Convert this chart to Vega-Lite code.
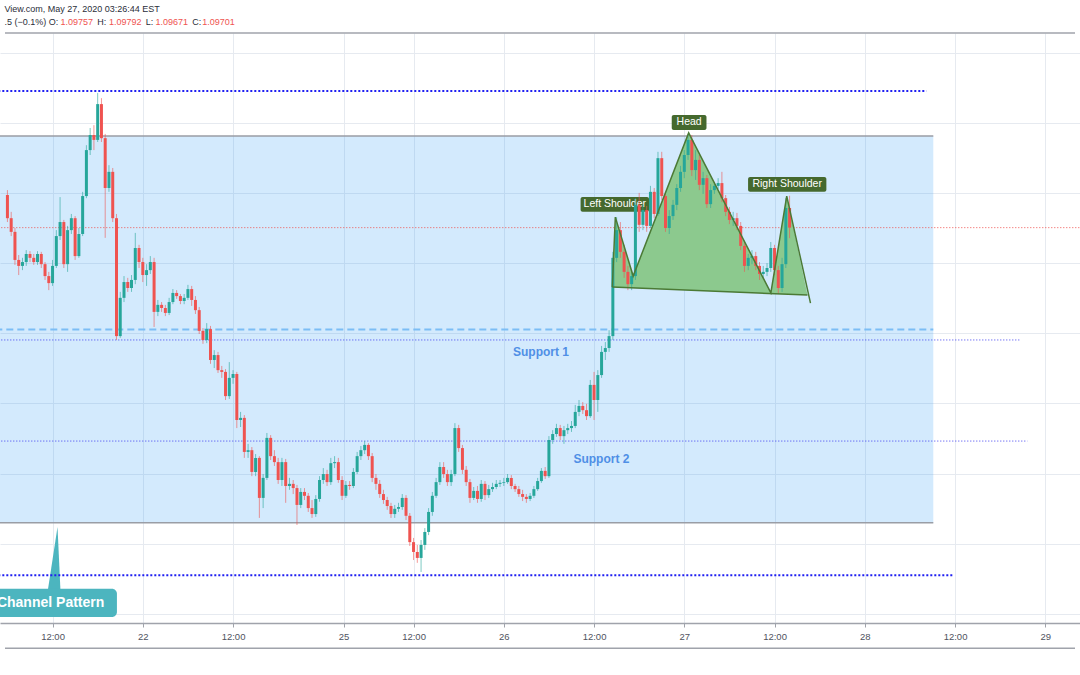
{
"$schema": "https://vega.github.io/schema/vega-lite/v6.json",
"width": 1080, "height": 590,
"autosize": {"type": "none"},
"padding": {"left": 0, "top": 33, "right": 0, "bottom": 52},
"background": "white",
"config": {"view": {"stroke": null}, "font": "Liberation Sans"},
"datasets": {
"candles": [
{"t":6,"o":1.09794,"h":1.09808,"l":1.09717,"c":1.09728},
{"t":6.5,"o":1.09728,"h":1.09746,"l":1.09677,"c":1.09689},
{"t":7,"o":1.09689,"h":1.09700,"l":1.09595,"c":1.09609},
{"t":7.5,"o":1.09609,"h":1.09623,"l":1.09566,"c":1.09592},
{"t":8,"o":1.09592,"h":1.09615,"l":1.09580,"c":1.09603},
{"t":8.5,"o":1.09603,"h":1.09637,"l":1.09592,"c":1.09626},
{"t":9,"o":1.09626,"h":1.09634,"l":1.09603,"c":1.09615},
{"t":9.5,"o":1.09615,"h":1.09626,"l":1.09595,"c":1.09603},
{"t":10,"o":1.09603,"h":1.09634,"l":1.09595,"c":1.09626},
{"t":10.5,"o":1.09626,"h":1.09632,"l":1.09586,"c":1.09597},
{"t":11,"o":1.09597,"h":1.09603,"l":1.09552,"c":1.09563},
{"t":11.5,"o":1.09563,"h":1.09575,"l":1.09523,"c":1.09543},
{"t":12,"o":1.09543,"h":1.09609,"l":1.09535,"c":1.09592},
{"t":12.5,"o":1.09592,"h":1.09694,"l":1.09586,"c":1.09677},
{"t":13,"o":1.09677,"h":1.09788,"l":1.09666,"c":1.09717},
{"t":13.5,"o":1.09717,"h":1.09723,"l":1.09586,"c":1.09597},
{"t":14,"o":1.09597,"h":1.09706,"l":1.09575,"c":1.09694},
{"t":14.5,"o":1.09694,"h":1.09740,"l":1.09683,"c":1.09728},
{"t":15,"o":1.09728,"h":1.09734,"l":1.09609,"c":1.09620},
{"t":15.5,"o":1.09620,"h":1.09700,"l":1.09615,"c":1.09683},
{"t":16,"o":1.09683,"h":1.09803,"l":1.09677,"c":1.09791},
{"t":16.5,"o":1.09791,"h":1.09936,"l":1.09785,"c":1.09922},
{"t":17,"o":1.09922,"h":1.09985,"l":1.09908,"c":1.09965},
{"t":17.5,"o":1.09965,"h":1.09993,"l":1.09922,"c":1.09951},
{"t":18,"o":1.09951,"h":1.10085,"l":1.09945,"c":1.10053},
{"t":18.5,"o":1.10053,"h":1.10070,"l":1.09945,"c":1.09956},
{"t":19,"o":1.09956,"h":1.09968,"l":1.09672,"c":1.09814},
{"t":19.5,"o":1.09814,"h":1.09879,"l":1.09803,"c":1.09860},
{"t":20,"o":1.09860,"h":1.09871,"l":1.09717,"c":1.09728},
{"t":20.5,"o":1.09728,"h":1.09740,"l":1.09381,"c":1.09392},
{"t":21,"o":1.09392,"h":1.09518,"l":1.09387,"c":1.09501},
{"t":21.5,"o":1.09501,"h":1.09563,"l":1.09489,"c":1.09546},
{"t":22,"o":1.09546,"h":1.09558,"l":1.09518,"c":1.09529},
{"t":22.5,"o":1.09529,"h":1.09566,"l":1.09518,"c":1.09552},
{"t":23,"o":1.09552,"h":1.09686,"l":1.09540,"c":1.09643},
{"t":23.5,"o":1.09643,"h":1.09652,"l":1.09586,"c":1.09603},
{"t":24,"o":1.09603,"h":1.09615,"l":1.09546,"c":1.09566},
{"t":24.5,"o":1.09566,"h":1.09597,"l":1.09535,"c":1.09580},
{"t":25,"o":1.09580,"h":1.09620,"l":1.09569,"c":1.09603},
{"t":25.5,"o":1.09603,"h":1.09615,"l":1.09418,"c":1.09461},
{"t":26,"o":1.09461,"h":1.09495,"l":1.09449,"c":1.09481},
{"t":26.5,"o":1.09481,"h":1.09489,"l":1.09461,"c":1.09472},
{"t":27,"o":1.09472,"h":1.09481,"l":1.09449,"c":1.09458},
{"t":27.5,"o":1.09458,"h":1.09501,"l":1.09452,"c":1.09489},
{"t":28,"o":1.09489,"h":1.09526,"l":1.09483,"c":1.09515},
{"t":28.5,"o":1.09515,"h":1.09523,"l":1.09498,"c":1.09506},
{"t":29,"o":1.09506,"h":1.09512,"l":1.09483,"c":1.09492},
{"t":29.5,"o":1.09492,"h":1.09512,"l":1.09483,"c":1.09501},
{"t":30,"o":1.09501,"h":1.09538,"l":1.09495,"c":1.09526},
{"t":30.5,"o":1.09526,"h":1.09535,"l":1.09478,"c":1.09495},
{"t":31,"o":1.09495,"h":1.09506,"l":1.09455,"c":1.09466},
{"t":31.5,"o":1.09466,"h":1.09475,"l":1.09398,"c":1.09407},
{"t":32,"o":1.09407,"h":1.09415,"l":1.09370,"c":1.09381},
{"t":32.5,"o":1.09381,"h":1.09429,"l":1.09372,"c":1.09412},
{"t":33,"o":1.09412,"h":1.09421,"l":1.09313,"c":1.09324},
{"t":33.5,"o":1.09324,"h":1.09352,"l":1.09301,"c":1.09338},
{"t":34,"o":1.09338,"h":1.09347,"l":1.09287,"c":1.09295},
{"t":34.5,"o":1.09295,"h":1.09307,"l":1.09273,"c":1.09290},
{"t":35,"o":1.09290,"h":1.09298,"l":1.09210,"c":1.09221},
{"t":35.5,"o":1.09221,"h":1.09318,"l":1.09213,"c":1.09273},
{"t":36,"o":1.09273,"h":1.09295,"l":1.09256,"c":1.09284},
{"t":36.5,"o":1.09284,"h":1.09290,"l":1.09130,"c":1.09153},
{"t":37,"o":1.09153,"h":1.09176,"l":1.09133,"c":1.09159},
{"t":37.5,"o":1.09159,"h":1.09167,"l":1.09045,"c":1.09062},
{"t":38,"o":1.09062,"h":1.09085,"l":1.09045,"c":1.09067},
{"t":38.5,"o":1.09067,"h":1.09076,"l":1.08993,"c":1.09005},
{"t":39,"o":1.09005,"h":1.09056,"l":1.08993,"c":1.09045},
{"t":39.5,"o":1.09045,"h":1.09050,"l":1.08874,"c":1.08931},
{"t":40,"o":1.08931,"h":1.08999,"l":1.08902,"c":1.08988},
{"t":40.5,"o":1.08988,"h":1.09116,"l":1.08982,"c":1.09102},
{"t":41,"o":1.09102,"h":1.09110,"l":1.09039,"c":1.09050},
{"t":41.5,"o":1.09050,"h":1.09067,"l":1.09022,"c":1.09033},
{"t":42,"o":1.09033,"h":1.09045,"l":1.08971,"c":1.08982},
{"t":42.5,"o":1.08982,"h":1.09045,"l":1.08965,"c":1.09033},
{"t":43,"o":1.09033,"h":1.09042,"l":1.08917,"c":1.08965},
{"t":43.5,"o":1.08965,"h":1.08988,"l":1.08954,"c":1.08971},
{"t":44,"o":1.08971,"h":1.08982,"l":1.08942,"c":1.08959},
{"t":44.5,"o":1.08959,"h":1.08968,"l":1.08854,"c":1.08911},
{"t":45,"o":1.08911,"h":1.08959,"l":1.08902,"c":1.08948},
{"t":45.5,"o":1.08948,"h":1.08959,"l":1.08925,"c":1.08937},
{"t":46,"o":1.08937,"h":1.08945,"l":1.08891,"c":1.08902},
{"t":46.5,"o":1.08902,"h":1.08925,"l":1.08874,"c":1.08885},
{"t":47,"o":1.08885,"h":1.08939,"l":1.08877,"c":1.08928},
{"t":47.5,"o":1.08928,"h":1.08993,"l":1.08920,"c":1.08982},
{"t":48,"o":1.08982,"h":1.09016,"l":1.08971,"c":1.08999},
{"t":48.5,"o":1.08999,"h":1.09011,"l":1.08965,"c":1.08976},
{"t":49,"o":1.08976,"h":1.09045,"l":1.08968,"c":1.09030},
{"t":49.5,"o":1.09030,"h":1.09050,"l":1.09016,"c":1.09033},
{"t":50,"o":1.09033,"h":1.09045,"l":1.08974,"c":1.08982},
{"t":50.5,"o":1.08982,"h":1.08993,"l":1.08925,"c":1.08937},
{"t":51,"o":1.08937,"h":1.08979,"l":1.08931,"c":1.08968},
{"t":51.5,"o":1.08968,"h":1.08979,"l":1.08954,"c":1.08965},
{"t":52,"o":1.08965,"h":1.09016,"l":1.08959,"c":1.09005},
{"t":52.5,"o":1.09005,"h":1.09062,"l":1.08999,"c":1.09050},
{"t":53,"o":1.09050,"h":1.09079,"l":1.09039,"c":1.09067},
{"t":53.5,"o":1.09067,"h":1.09093,"l":1.09056,"c":1.09082},
{"t":54,"o":1.09082,"h":1.09087,"l":1.09039,"c":1.09050},
{"t":54.5,"o":1.09050,"h":1.09059,"l":1.08976,"c":1.08988},
{"t":55,"o":1.08988,"h":1.08999,"l":1.08954,"c":1.08971},
{"t":55.5,"o":1.08971,"h":1.08982,"l":1.08931,"c":1.08942},
{"t":56,"o":1.08942,"h":1.08954,"l":1.08914,"c":1.08925},
{"t":56.5,"o":1.08925,"h":1.08934,"l":1.08897,"c":1.08908},
{"t":57,"o":1.08908,"h":1.08917,"l":1.08874,"c":1.08885},
{"t":57.5,"o":1.08885,"h":1.08911,"l":1.08874,"c":1.08900},
{"t":58,"o":1.08900,"h":1.08917,"l":1.08891,"c":1.08905},
{"t":58.5,"o":1.08905,"h":1.08942,"l":1.08897,"c":1.08931},
{"t":59,"o":1.08931,"h":1.08939,"l":1.08868,"c":1.08880},
{"t":59.5,"o":1.08880,"h":1.08888,"l":1.08794,"c":1.08805},
{"t":60,"o":1.08805,"h":1.08817,"l":1.08754,"c":1.08777},
{"t":60.5,"o":1.08777,"h":1.08797,"l":1.08746,"c":1.08760},
{"t":61,"o":1.08760,"h":1.08811,"l":1.08720,"c":1.08797},
{"t":61.5,"o":1.08797,"h":1.08845,"l":1.08783,"c":1.08834},
{"t":62,"o":1.08834,"h":1.08902,"l":1.08825,"c":1.08891},
{"t":62.5,"o":1.08891,"h":1.08948,"l":1.08880,"c":1.08937},
{"t":63,"o":1.08937,"h":1.08988,"l":1.08931,"c":1.08976},
{"t":63.5,"o":1.08976,"h":1.09033,"l":1.08968,"c":1.09019},
{"t":64,"o":1.09019,"h":1.09033,"l":1.08988,"c":1.08999},
{"t":64.5,"o":1.08999,"h":1.09011,"l":1.08965,"c":1.08976},
{"t":65,"o":1.08976,"h":1.09011,"l":1.08965,"c":1.08999},
{"t":65.5,"o":1.08999,"h":1.09144,"l":1.08993,"c":1.09130},
{"t":66,"o":1.09130,"h":1.09139,"l":1.09062,"c":1.09073},
{"t":66.5,"o":1.09073,"h":1.09082,"l":1.08999,"c":1.09011},
{"t":67,"o":1.09011,"h":1.09022,"l":1.08965,"c":1.08976},
{"t":67.5,"o":1.08976,"h":1.08985,"l":1.08917,"c":1.08931},
{"t":68,"o":1.08931,"h":1.08962,"l":1.08925,"c":1.08951},
{"t":68.5,"o":1.08951,"h":1.08965,"l":1.08917,"c":1.08928},
{"t":69,"o":1.08928,"h":1.08982,"l":1.08920,"c":1.08971},
{"t":69.5,"o":1.08971,"h":1.08979,"l":1.08925,"c":1.08939},
{"t":70,"o":1.08939,"h":1.08968,"l":1.08931,"c":1.08956},
{"t":70.5,"o":1.08956,"h":1.08974,"l":1.08948,"c":1.08962},
{"t":71,"o":1.08962,"h":1.08982,"l":1.08956,"c":1.08971},
{"t":71.5,"o":1.08971,"h":1.08982,"l":1.08962,"c":1.08974},
{"t":72,"o":1.08974,"h":1.08988,"l":1.08965,"c":1.08976},
{"t":72.5,"o":1.08976,"h":1.08999,"l":1.08971,"c":1.08988},
{"t":73,"o":1.08988,"h":1.08996,"l":1.08956,"c":1.08965},
{"t":73.5,"o":1.08965,"h":1.08971,"l":1.08948,"c":1.08956},
{"t":74,"o":1.08956,"h":1.08965,"l":1.08934,"c":1.08942},
{"t":74.5,"o":1.08942,"h":1.08954,"l":1.08922,"c":1.08934},
{"t":75,"o":1.08934,"h":1.08942,"l":1.08917,"c":1.08928},
{"t":75.5,"o":1.08928,"h":1.08945,"l":1.08922,"c":1.08937},
{"t":76,"o":1.08937,"h":1.08965,"l":1.08931,"c":1.08956},
{"t":76.5,"o":1.08956,"h":1.08988,"l":1.08951,"c":1.08979},
{"t":77,"o":1.08979,"h":1.09016,"l":1.08974,"c":1.09008},
{"t":77.5,"o":1.09008,"h":1.09019,"l":1.08985,"c":1.08993},
{"t":78,"o":1.08993,"h":1.09107,"l":1.08988,"c":1.09096},
{"t":78.5,"o":1.09096,"h":1.09124,"l":1.09085,"c":1.09113},
{"t":79,"o":1.09113,"h":1.09142,"l":1.09105,"c":1.09130},
{"t":79.5,"o":1.09130,"h":1.09139,"l":1.09096,"c":1.09107},
{"t":80,"o":1.09107,"h":1.09136,"l":1.09085,"c":1.09124},
{"t":80.5,"o":1.09124,"h":1.09142,"l":1.09113,"c":1.09130},
{"t":81,"o":1.09130,"h":1.09150,"l":1.09119,"c":1.09136},
{"t":81.5,"o":1.09136,"h":1.09196,"l":1.09130,"c":1.09176},
{"t":82,"o":1.09176,"h":1.09210,"l":1.09164,"c":1.09193},
{"t":82.5,"o":1.09193,"h":1.09204,"l":1.09170,"c":1.09181},
{"t":83,"o":1.09181,"h":1.09199,"l":1.09153,"c":1.09164},
{"t":83.5,"o":1.09164,"h":1.09267,"l":1.09159,"c":1.09253},
{"t":84,"o":1.09253,"h":1.09290,"l":1.09153,"c":1.09210},
{"t":84.5,"o":1.09210,"h":1.09295,"l":1.09176,"c":1.09281},
{"t":85,"o":1.09281,"h":1.09364,"l":1.09273,"c":1.09347},
{"t":85.5,"o":1.09347,"h":1.09375,"l":1.09324,"c":1.09358},
{"t":86,"o":1.09358,"h":1.09409,"l":1.09347,"c":1.09392},
{"t":86.5,"o":1.09392,"h":1.09632,"l":1.09381,"c":1.09615},
{"t":87,"o":1.09615,"h":1.09731,"l":1.09603,"c":1.09694},
{"t":87.5,"o":1.09694,"h":1.09717,"l":1.09615,"c":1.09632},
{"t":88,"o":1.09632,"h":1.09652,"l":1.09558,"c":1.09575},
{"t":88.5,"o":1.09575,"h":1.09592,"l":1.09523,"c":1.09540},
{"t":89,"o":1.09540,"h":1.09580,"l":1.09523,"c":1.09563},
{"t":89.5,"o":1.09563,"h":1.09785,"l":1.09552,"c":1.09766},
{"t":90,"o":1.09766,"h":1.09800,"l":1.09689,"c":1.09709},
{"t":90.5,"o":1.09709,"h":1.09766,"l":1.09694,"c":1.09751},
{"t":91,"o":1.09751,"h":1.09763,"l":1.09689,"c":1.09706},
{"t":91.5,"o":1.09706,"h":1.09820,"l":1.09700,"c":1.09803},
{"t":92,"o":1.09803,"h":1.09814,"l":1.09728,"c":1.09740},
{"t":92.5,"o":1.09740,"h":1.09917,"l":1.09734,"c":1.09899},
{"t":93,"o":1.09899,"h":1.09917,"l":1.09780,"c":1.09791},
{"t":93.5,"o":1.09791,"h":1.09803,"l":1.09689,"c":1.09700},
{"t":94,"o":1.09700,"h":1.09751,"l":1.09683,"c":1.09734},
{"t":94.5,"o":1.09734,"h":1.09780,"l":1.09723,"c":1.09766},
{"t":95,"o":1.09766,"h":1.09825,"l":1.09751,"c":1.09814},
{"t":95.5,"o":1.09814,"h":1.09877,"l":1.09803,"c":1.09860},
{"t":96,"o":1.09860,"h":1.09922,"l":1.09842,"c":1.09908},
{"t":96.5,"o":1.09908,"h":1.09968,"l":1.09894,"c":1.09951},
{"t":97,"o":1.09951,"h":1.09965,"l":1.09848,"c":1.09865},
{"t":97.5,"o":1.09865,"h":1.09922,"l":1.09837,"c":1.09894},
{"t":98,"o":1.09894,"h":1.09908,"l":1.09808,"c":1.09823},
{"t":98.5,"o":1.09823,"h":1.09860,"l":1.09797,"c":1.09842},
{"t":99,"o":1.09842,"h":1.09851,"l":1.09757,"c":1.09768},
{"t":99.5,"o":1.09768,"h":1.09825,"l":1.09757,"c":1.09808},
{"t":100,"o":1.09808,"h":1.09831,"l":1.09797,"c":1.09820},
{"t":100.5,"o":1.09820,"h":1.09842,"l":1.09811,"c":1.09828},
{"t":101,"o":1.09828,"h":1.09860,"l":1.09774,"c":1.09785},
{"t":101.5,"o":1.09785,"h":1.09794,"l":1.09734,"c":1.09746},
{"t":102,"o":1.09746,"h":1.09760,"l":1.09711,"c":1.09723},
{"t":102.5,"o":1.09723,"h":1.09746,"l":1.09706,"c":1.09728},
{"t":103,"o":1.09728,"h":1.09743,"l":1.09694,"c":1.09706},
{"t":103.5,"o":1.09706,"h":1.09717,"l":1.09637,"c":1.09649},
{"t":104,"o":1.09649,"h":1.09660,"l":1.09575,"c":1.09592},
{"t":104.5,"o":1.09592,"h":1.09626,"l":1.09580,"c":1.09615},
{"t":105,"o":1.09615,"h":1.09637,"l":1.09597,"c":1.09620},
{"t":105.5,"o":1.09620,"h":1.09632,"l":1.09580,"c":1.09592},
{"t":106,"o":1.09592,"h":1.09603,"l":1.09552,"c":1.09569},
{"t":106.5,"o":1.09569,"h":1.09592,"l":1.09558,"c":1.09575},
{"t":107,"o":1.09575,"h":1.09600,"l":1.09563,"c":1.09586},
{"t":107.5,"o":1.09586,"h":1.09660,"l":1.09575,"c":1.09643},
{"t":108,"o":1.09643,"h":1.09652,"l":1.09566,"c":1.09580},
{"t":108.5,"o":1.09580,"h":1.09592,"l":1.09512,"c":1.09529},
{"t":109,"o":1.09529,"h":1.09615,"l":1.09518,"c":1.09597},
{"t":109.5,"o":1.09597,"h":1.09785,"l":1.09586,"c":1.09757},
{"t":110,"o":1.09757,"h":1.09792,"l":1.09671,"c":1.09701}
]
},
"layer": [
{
"data": {"values": [{"x1": 0, "x2": 129.11, "top": 1.09962, "bottom": 1.0886}]},
"mark": {"type": "rect", "fill": "#2196f3", "fillOpacity": 0.2, "clip": true},
"encoding": {
"x": {"field": "x1", "type": "quantitative", "scale": {"domain": [5.677, 147.95], "nice": false, "zero": false},
"axis": {"values": [12, 24, 36, 50.7, 60, 72, 84, 96, 108, 120, 132, 144],
"labelExpr": "datum.value == 24 ? '22' : datum.value == 50.7 ? '25' : datum.value == 72 ? '26' : datum.value == 96 ? '27' : datum.value == 120 ? '28' : datum.value == 144 ? '29' : '12:00'",
"title": null, "grid": true, "gridColor": "#e6eaf0", "gridWidth": 1, "domain": true, "domainColor": "#a0a3ab", "domainWidth": 1.5, "ticks": true, "tickColor": "#a0a3ab", "tickSize": 4, "labels": true, "labelColor": "#50535e", "labelFontSize": 9.5, "labelFont": "Liberation Sans", "labelPadding": 4, "labelFlush": false, "labelOverlap": false}},
"x2": {"field": "x2"},
"y": {"field": "top", "type": "quantitative", "scale": {"domain": [1.085746, 1.102556], "nice": false, "zero": false},
"axis": {"values": [1.086, 1.087, 1.088, 1.089, 1.09, 1.091, 1.092, 1.093, 1.094, 1.095, 1.096, 1.097, 1.098, 1.099, 1.1, 1.101, 1.102], "title": null, "labels": false, "ticks": false, "domain": false, "grid": true, "gridColor": "#e6eaf0", "gridWidth": 1}},
"y2": {"field": "bottom"}
}
},
{
"data": {"values": [{"x1": 0, "x2": 129.11, "p": 1.09962}, {"x1": 0, "x2": 129.11, "p": 1.0886}]},
"mark": {"type": "rule", "color": "#9a9da5", "strokeWidth": 1.5, "clip": true},
"encoding": {
"x": {"field": "x1", "type": "quantitative", "scale": {"domain": [5.677, 147.95], "nice": false, "zero": false}},
"x2": {"field": "x2"},
"y": {"field": "p", "type": "quantitative", "scale": {"domain": [1.085746, 1.102556], "nice": false, "zero": false}}
}
},
{
"data": {"values": [{"x1": 0, "x2": 129.11, "p": 1.09411}]},
"mark": {"type": "rule", "color": "#7cbdf5", "strokeWidth": 2, "strokeDash": [7, 4], "clip": true},
"encoding": {
"x": {"field": "x1", "type": "quantitative", "scale": {"domain": [5.677, 147.95], "nice": false, "zero": false}},
"x2": {"field": "x2"},
"y": {"field": "p", "type": "quantitative", "scale": {"domain": [1.085746, 1.102556], "nice": false, "zero": false}}
}
},
{
"data": {"values": [{"t": 11.34, "p": 1.08663, "b": 1.08663}, {"t": 12.66, "p": 1.08848, "b": 1.08663}, {"t": 13.06, "p": 1.08663, "b": 1.08663}]},
"mark": {"type": "area", "color": "#4cb5bf", "opacity": 1},
"encoding": {
"x": {"field": "t", "type": "quantitative", "scale": {"domain": [5.677, 147.95], "nice": false, "zero": false}},
"y": {"field": "p", "type": "quantitative", "scale": {"domain": [1.085746, 1.102556], "nice": false, "zero": false}},
"y2": {"field": "b"}
}
},
{
"data": {"values": [{"x1": 3, "x2": 20.56, "top": 1.08672, "bottom": 1.08592}]},
"mark": {"type": "rect", "fill": "#4cb5bf", "cornerRadius": 5, "clip": true},
"encoding": {
"x": {"field": "x1", "type": "quantitative", "scale": {"domain": [5.677, 147.95], "nice": false, "zero": false}},
"x2": {"field": "x2"},
"y": {"field": "top", "type": "quantitative", "scale": {"domain": [1.085746, 1.102556], "nice": false, "zero": false}},
"y2": {"field": "bottom"}
}
},
{
"data": {"values": [{"t": 11.74, "p": 1.08631, "txt": "Channel Pattern"}]},
"mark": {"type": "text", "color": "white", "fontSize": 14, "fontWeight": "bold", "font": "Liberation Sans", "align": "center", "baseline": "middle", "clip": true},
"encoding": {
"x": {"field": "t", "type": "quantitative", "scale": {"domain": [5.677, 147.95], "nice": false, "zero": false}},
"y": {"field": "p", "type": "quantitative", "scale": {"domain": [1.085746, 1.102556], "nice": false, "zero": false}},
"text": {"field": "txt"}
}
},
{
"data": {"values": [{"x1": 0, "x2": 128.2, "p": 1.1009}, {"x1": 0, "x2": 131.76, "p": 1.08711}]},
"mark": {"type": "rule", "color": "#1f1ff2", "strokeWidth": 2, "strokeDash": [2, 2], "clip": true},
"encoding": {
"x": {"field": "x1", "type": "quantitative", "scale": {"domain": [5.677, 147.95], "nice": false, "zero": false}},
"x2": {"field": "x2"},
"y": {"field": "p", "type": "quantitative", "scale": {"domain": [1.085746, 1.102556], "nice": false, "zero": false}}
}
},
{
"data": {"values": [{"x1": 0, "x2": 140.72, "p": 1.09381}, {"x1": 0, "x2": 141.64, "p": 1.09093}]},
"mark": {"type": "rule", "color": "#3d3df0", "strokeWidth": 1, "strokeDash": [1, 2], "clip": true},
"encoding": {
"x": {"field": "x1", "type": "quantitative", "scale": {"domain": [5.677, 147.95], "nice": false, "zero": false}},
"x2": {"field": "x2"},
"y": {"field": "p", "type": "quantitative", "scale": {"domain": [1.085746, 1.102556], "nice": false, "zero": false}}
}
},
{
"data": {"values": [{"x1": 0, "x2": 150, "p": 1.09701}]},
"mark": {"type": "rule", "color": "#ef5350", "strokeWidth": 1, "strokeDash": [1, 2], "clip": true},
"encoding": {
"x": {"field": "x1", "type": "quantitative", "scale": {"domain": [5.677, 147.95], "nice": false, "zero": false}},
"x2": {"field": "x2"},
"y": {"field": "p", "type": "quantitative", "scale": {"domain": [1.085746, 1.102556], "nice": false, "zero": false}}
}
},
{
"data": {"values": [
{"t": 86.43, "top": 1.09532, "base": 1.09532},
{"t": 86.83, "top": 1.09731, "base": 1.09531},
{"t": 89.2, "top": 1.09563, "base": 1.09529},
{"t": 96.58, "top": 1.09971, "base": 1.09523},
{"t": 107.51, "top": 1.09515, "base": 1.09513},
{"t": 109.62, "top": 1.09791, "base": 1.09511},
{"t": 112.38, "top": 1.09509, "base": 1.09509}
]},
"mark": {"type": "area", "color": "#8cc98e", "opacity": 1},
"encoding": {
"x": {"field": "t", "type": "quantitative", "scale": {"domain": [5.677, 147.95], "nice": false, "zero": false}},
"y": {"field": "top", "type": "quantitative", "scale": {"domain": [1.085746, 1.102556], "nice": false, "zero": false}},
"y2": {"field": "base"}
}
},
{
"data": {"values": [
{"x1": 94.33, "x2": 98.95, "y1": 1.10022, "y2": 1.09979, "tx": 96.64, "ty": 1.10001, "label": "Head"},
{"x1": 82.21, "x2": 91.31, "y1": 1.09788, "y2": 1.09746, "tx": 86.76, "ty": 1.09767, "label": "Left Shoulder"},
{"x1": 104.48, "x2": 114.89, "y1": 1.09845, "y2": 1.09803, "tx": 109.68, "ty": 1.09824, "label": "Right Shoulder"}
]},
"layer": [
{
"mark": {"type": "rect", "fill": "#45692e", "cornerRadius": 2},
"encoding": {
"x": {"field": "x1", "type": "quantitative", "scale": {"domain": [5.677, 147.95], "nice": false, "zero": false}},
"x2": {"field": "x2"},
"y": {"field": "y1", "type": "quantitative", "scale": {"domain": [1.085746, 1.102556], "nice": false, "zero": false}},
"y2": {"field": "y2"}
}
},
{
"mark": {"type": "text", "color": "white", "fontSize": 10.5, "font": "Liberation Sans", "align": "center", "baseline": "middle"},
"encoding": {
"x": {"field": "tx", "type": "quantitative", "scale": {"domain": [5.677, 147.95], "nice": false, "zero": false}},
"y": {"field": "ty", "type": "quantitative", "scale": {"domain": [1.085746, 1.102556], "nice": false, "zero": false}},
"text": {"field": "label"}
}
}
]
},
{
"data": {"name": "candles"},
"mark": {"type": "rule", "strokeWidth": 1, "opacity": 0.6},
"encoding": {
"x": {"field": "t", "type": "quantitative", "scale": {"domain": [5.677, 147.95], "nice": false, "zero": false}},
"y": {"field": "l", "type": "quantitative", "scale": {"domain": [1.085746, 1.102556], "nice": false, "zero": false}},
"y2": {"field": "h"},
"color": {"condition": {"test": "datum.c >= datum.o", "value": "#26a69a"}, "value": "#ef5350"}
}
},
{
"data": {"name": "candles"},
"mark": {"type": "bar", "size": 3, "orient": "vertical"},
"encoding": {
"x": {"field": "t", "type": "quantitative", "scale": {"domain": [5.677, 147.95], "nice": false, "zero": false}},
"y": {"field": "o", "type": "quantitative", "scale": {"domain": [1.085746, 1.102556], "nice": false, "zero": false}},
"y2": {"field": "c"},
"color": {"condition": {"test": "datum.c >= datum.o", "value": "#26a69a"}, "value": "#ef5350"}
}
},
{
"data": {"values": [
{"s": "p", "k": 0, "t": 86.43, "p": 1.09532},
{"s": "p", "k": 1, "t": 86.83, "p": 1.09731},
{"s": "p", "k": 2, "t": 89.2, "p": 1.09563},
{"s": "p", "k": 3, "t": 96.58, "p": 1.09971},
{"s": "p", "k": 4, "t": 107.51, "p": 1.09515},
{"s": "p", "k": 5, "t": 109.62, "p": 1.09791},
{"s": "p", "k": 6, "t": 112.78, "p": 1.09486},
{"s": "b", "k": 0, "t": 86.43, "p": 1.09532},
{"s": "b", "k": 1, "t": 112.38, "p": 1.09509}
]},
"mark": {"type": "line", "color": "#4b7a35", "strokeWidth": 1.5},
"encoding": {
"x": {"field": "t", "type": "quantitative", "scale": {"domain": [5.677, 147.95], "nice": false, "zero": false}},
"y": {"field": "p", "type": "quantitative", "scale": {"domain": [1.085746, 1.102556], "nice": false, "zero": false}},
"detail": {"field": "s"},
"order": {"field": "k"}
}
},
{
"data": {"values": [{"t": 76.95, "p": 1.09347, "txt": "Support 1"}, {"t": 84.98, "p": 1.09042, "txt": "Support 2"}]},
"mark": {"type": "text", "color": "#4f8fe6", "fontSize": 12, "fontWeight": "bold", "font": "Liberation Sans", "align": "center", "baseline": "middle"},
"encoding": {
"x": {"field": "t", "type": "quantitative", "scale": {"domain": [5.677, 147.95], "nice": false, "zero": false}},
"y": {"field": "p", "type": "quantitative", "scale": {"domain": [1.085746, 1.102556], "nice": false, "zero": false}},
"text": {"field": "txt"}
}
},
{
"data": {"values": [{"x1": 5.677, "x2": 147.95, "p": 1.102556}, {"x1": 5.677, "x2": 147.95, "p": 1.08503}]},
"mark": {"type": "rule", "color": "#a0a3ab", "strokeWidth": 1.5},
"encoding": {
"x": {"field": "x1", "type": "quantitative", "scale": {"domain": [5.677, 147.95], "nice": false, "zero": false}},
"x2": {"field": "x2"},
"y": {"field": "p", "type": "quantitative", "scale": {"domain": [1.085746, 1.102556], "nice": false, "zero": false}}
}
},
{
"data": {"values": [
{"t": 5.6, "p": 1.10324, "txt": "View.com, May 27, 2020 03:26:44 EST"},
{"t": 5.6, "p": 1.10286, "txt": ".5 (−0.1%) O:"},
{"t": 17.93, "p": 1.10286, "txt": "H:"},
{"t": 24.38, "p": 1.10286, "txt": "L:"},
{"t": 30.57, "p": 1.10286, "txt": "C:"}
]},
"mark": {"type": "text", "color": "#2a2e39", "fontSize": 9, "font": "Liberation Sans", "align": "left", "baseline": "middle"},
"encoding": {
"x": {"field": "t", "type": "quantitative", "scale": {"domain": [5.677, 147.95], "nice": false, "zero": false}},
"y": {"field": "p", "type": "quantitative", "scale": {"domain": [1.085746, 1.102556], "nice": false, "zero": false}},
"text": {"field": "txt"}
}
},
{
"data": {"values": [
{"t": 13.05, "p": 1.10286, "txt": "1.09757"},
{"t": 19.51, "p": 1.10286, "txt": "1.09792"},
{"t": 25.7, "p": 1.10286, "txt": "1.09671"},
{"t": 31.89, "p": 1.10286, "txt": "1.09701"}
]},
"mark": {"type": "text", "color": "#ef5350", "fontSize": 9, "font": "Liberation Sans", "align": "left", "baseline": "middle"},
"encoding": {
"x": {"field": "t", "type": "quantitative", "scale": {"domain": [5.677, 147.95], "nice": false, "zero": false}},
"y": {"field": "p", "type": "quantitative", "scale": {"domain": [1.085746, 1.102556], "nice": false, "zero": false}},
"text": {"field": "txt"}
}
}
]
}
